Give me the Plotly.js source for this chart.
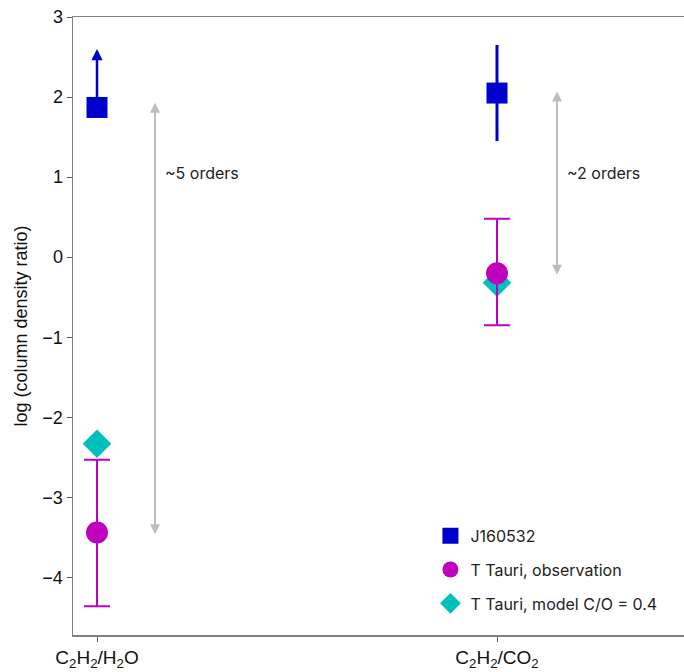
<!DOCTYPE html>
<html>
<head>
<meta charset="utf-8">
<script src="https://cdn.plot.ly/plotly-3.0.1.min.js"></script>
<style>html,body{margin:0;padding:0;background:#fff;}#chart{width:684px;height:672px;}</style>
</head>
<body>
<div id="chart"></div>
<script>
// Categories and tick labels
const categories = [0, 1];
const tickLabels = ["C<sub>2</sub>H<sub>2</sub>/H<sub>2</sub>O", "C<sub>2</sub>H<sub>2</sub>/CO<sub>2</sub>"];

// J160532
const jX = [0, 1];
const jY = [1.87, 2.05];
const jErr = [0, 0.6];           // symmetric error (CO2 only)
const jLowerLimitTop = 2.6;      // arrow tip for the H2O lower limit

// T Tauri, observation
const obsX = [0, 1];
const obsY = [-3.44, -0.2];
const obsErrPlus = [0.91, 0.68];
const obsErrMinus = [0.92, 0.65];

// T Tauri, model C/O = 0.4
const modX = [0, 1];
const modY = [-2.33, -0.32];

// Difference arrows
const diffX = [0.145, 1.15];
const diffTop = [1.93, 2.07];
const diffBottom = [-3.48, -0.24];
const diffLabels = ["~5 orders", "~2 orders"];
const diffLabelY = [1.05, 1.05];

const blue = "#0000CC", magenta = "#C000C0", cyan = "#00BFBF", grey = "#BDBDBD";

const traces = [
  {
    x: modX, y: modY, type: "scatter", mode: "markers", name: "T Tauri, model C/O = 0.4",
    marker: {symbol: "diamond", size: 22, color: cyan},
    legendrank: 3, legendgroup: "c"
  },
  {
    x: obsX, y: obsY, type: "scatter", mode: "markers", name: "T Tauri, observation",
    marker: {symbol: "circle", size: 22, color: magenta},
    error_y: {type: "data", symmetric: false, array: obsErrPlus, arrayminus: obsErrMinus,
              color: magenta, thickness: 2, width: 13},
    legendrank: 2, legendgroup: "b"
  },
  {
    x: jX, y: jY, type: "scatter", mode: "markers", name: "J160532",
    marker: {symbol: "square", size: 21, color: blue},
    error_y: {type: "data", array: jErr, color: blue, thickness: 3, width: 0},
    legendrank: 1, legendgroup: "a"
  }
];

const annotations = [];
// lower-limit arrow for J160532 H2O
annotations.push({
  x: jX[0], y: jLowerLimitTop, ax: jX[0], ay: jY[0],
  xref: "x", yref: "y", axref: "x", ayref: "y",
  showarrow: true, arrowhead: 2, arrowsize: 0.9, arrowwidth: 2.5, arrowcolor: blue,
  text: "", standoff: 0, startstandoff: 0
});
for (let i = 0; i < 2; i++) {
  annotations.push({
    x: diffX[i], y: diffTop[i], ax: diffX[i], ay: diffBottom[i],
    xref: "x", yref: "y", axref: "x", ayref: "y",
    showarrow: true, arrowhead: 2, startarrowhead: 2, arrowside: "end+start",
    arrowsize: 1, arrowwidth: 2, arrowcolor: grey, text: ""
  });
  annotations.push({
    x: diffX[i] + 0.02, y: diffLabelY[i], xref: "x", yref: "y",
    text: diffLabels[i], showarrow: false, xanchor: "left", yanchor: "middle",
    font: {family: "Inter, 'Noto Sans', sans-serif", size: 16, color: "#222"}
  });
}

const layout = {
  width: 684, height: 672,
  margin: {l: 73, r: 0, t: 17, b: 37},
  paper_bgcolor: "#fff", plot_bgcolor: "#fff",
  showlegend: true,
  legend: {
    x: 0.585, y: 0.188, xanchor: "left", yanchor: "top",
    traceorder: "grouped", tracegroupgap: 10,
    font: {family: "Inter, 'Noto Sans', sans-serif", size: 16, color: "#222"},
    bgcolor: "rgba(0,0,0,0)"
  },
  xaxis: {
    range: [-0.06, 1.4675], tickmode: "array", tickvals: categories, ticktext: tickLabels,
    showline: true, linecolor: "#808080", linewidth: 1.5, mirror: true,
    ticks: "outside", ticklen: 5, tickcolor: "#555", showgrid: false, zeroline: false,
    tickfont: {family: "'Liberation Sans', Arial, sans-serif", size: 19, color: "#111"}
  },
  yaxis: {
    range: [-4.72, 3], tickvals: [-4, -3, -2, -1, 0, 1, 2, 3],
    showline: true, linecolor: "#808080", linewidth: 1.5,
    ticks: "outside", ticklen: 5, tickcolor: "#555", showgrid: false, zeroline: false,
    tickfont: {family: "'Liberation Sans', Arial, sans-serif", size: 18, color: "#111"},
    title: {text: "log (column density ratio)", standoff: 10,
            font: {family: "'Liberation Sans', Arial, sans-serif", size: 18, color: "#111"}}
  },
  annotations: annotations
};

Plotly.newPlot("chart", traces, layout, {displayModeBar: false, staticPlot: true});
</script>
</body>
</html>
